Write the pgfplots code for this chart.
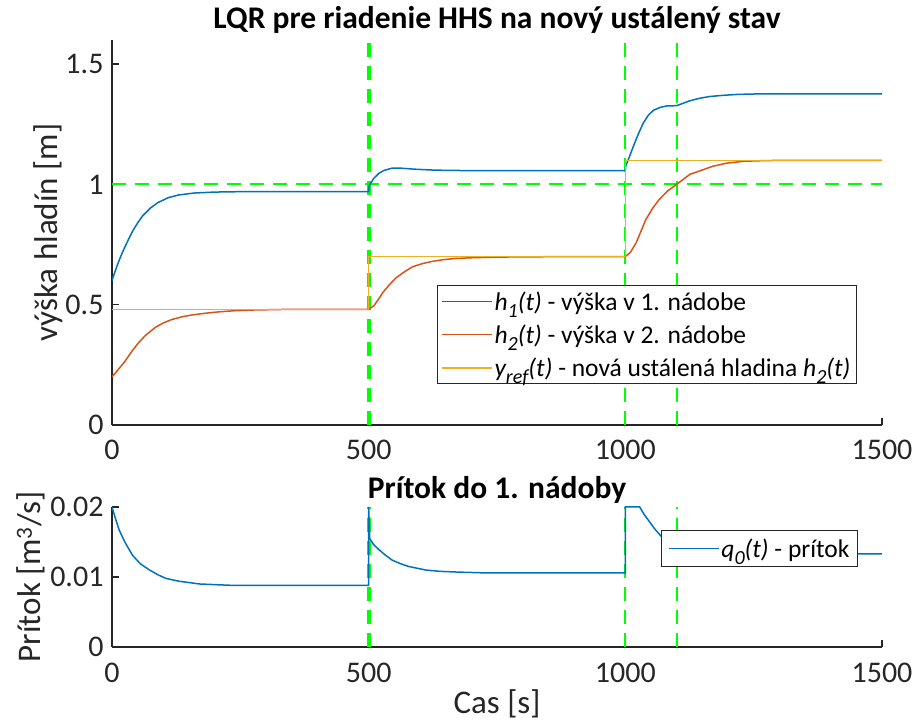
\documentclass[border=0pt]{standalone}
\usepackage{pgfplots}
\pgfplotsset{compat=1.18}
\usepackage{fontspec}
\setmainfont{Carlito}
\definecolor{mblue}{rgb}{0,0.447,0.741}
\definecolor{mred}{rgb}{0.85,0.325,0.098}
\definecolor{myel}{rgb}{0.929,0.694,0.125}
\definecolor{mgray}{HTML}{262626}
\definecolor{mgreen}{rgb}{0,1,0}
\newcommand{\sub}[1]{\raisebox{-0.6ex}{\fontsize{20}{20}\selectfont #1}}
\pgfplotsset{
  common/.style={
    scale only axis, width=770pt,
    xmin=0, xmax=1500,
    axis x line*=bottom, axis y line*=left,
    axis line style={-, mgray, line width=1.2pt},
    tick align=inside, major tick length=7pt,
    tick style={mgray, line width=1.2pt},
    xtick={0,500,1000,1500}, xticklabels={0,500,1000,1500},
    tick label style={font=\fontsize{30}{33}\selectfont, text=mgray},
    xticklabel style={yshift=-12pt},
    yticklabel style={xshift=-5pt},
    label style={font=\fontsize{33}{36}\selectfont, text=mgray},
    title style={font=\bfseries\fontsize{31.5}{34}\selectfont, text=black},
    legend style={draw=mgray, line width=1pt, fill=white, font=\fontsize{25.5}{30}\selectfont,
      legend cell align=left, inner sep=4pt, row sep=9pt},
    legend image code/.code={\draw[#1, line width=1.5pt] (0pt,0pt) -- (50pt,0pt);},
  },
  gline/.style={mgreen, line width=2pt, dash pattern=on 14pt off 9pt, forget plot},
  gthick/.style={mgreen, line width=4pt, dash pattern=on 14pt off 9pt, forget plot},
}
\begin{document}
\begin{tikzpicture}
\useasboundingbox (-112pt,-78pt) rectangle (801pt,647pt);
% top axis
\begin{axis}[common, at={(0pt,222pt)}, anchor=south west, height=385pt,
  ymin=0, ymax=1.6, ytick={0,0.5,1,1.5}, yticklabels={0,0.5,1,1.5},
  ylabel={výška hladín [m]},
  ylabel style={yshift=-4pt},
  title={LQR pre riadenie HHS na nový ustálený stav},
  title style={yshift=-3pt},
  legend style={at={(0.9675,0.3636)}, anchor=north east},
]
\addplot[gthick] coordinates {(500,0) (500,1.6)};
\addplot[gline] coordinates {(1000,0) (1000,1.6)};
\addplot[gline] coordinates {(1100,0) (1100,1.6)};
\addplot[gline] coordinates {(0,1) (1500,1)};
\addplot[mblue, line width=1.5pt] coordinates {
(0,0.600) (5,0.632) (10,0.662) (15,0.690) (20,0.716) (30,0.762) (40,0.805) (50,0.840)
(60,0.870) (75,0.902) (90,0.925) (110,0.945) (130,0.956) (160,0.964) (200,0.968)
(260,0.970) (499,0.970) (500,0.970) (501,0.995) (505,1.008) (510,1.025) (520,1.046)
(530,1.058) (545,1.067) (565,1.067) (590,1.063) (630,1.059) (700,1.057) (999,1.057)
(1000,1.057) (1001,1.078) (1008,1.115) (1016,1.160) (1025,1.208) (1035,1.255) (1045,1.288)
(1055,1.308) (1068,1.320) (1081,1.326) (1100,1.327) (1110,1.335) (1125,1.347)
(1145,1.358) (1164,1.365) (1190,1.370) (1220,1.374) (1260,1.376) (1500,1.376)};
\addlegendentry{\textit{h\sub{1}(t)} - výška v 1. nádobe}
\addplot[mred, line width=1.5pt] coordinates {
(0,0.200) (10,0.225) (25,0.264) (40,0.310) (51,0.340) (65,0.372) (84,0.405) (100,0.424)
(116,0.438) (135,0.449) (155,0.457) (180,0.464) (207,0.470) (240,0.475) (278,0.478)
(330,0.480) (500,0.481) (510,0.495) (520,0.525) (527,0.549) (540,0.582) (553,0.611)
(570,0.637) (585,0.657) (605,0.671) (624,0.680) (645,0.687) (669,0.692) (700,0.695)
(734,0.697) (800,0.699) (1000,0.700) (1010,0.718) (1021,0.757) (1030,0.803) (1040,0.854)
(1053,0.900) (1066,0.937) (1082,0.972) (1100,1.000) (1126,1.042) (1145,1.056)
(1170,1.075) (1197,1.088) (1230,1.096) (1275,1.099) (1330,1.100) (1500,1.100)};
\addlegendentry{\textit{h\sub{2}(t)} - výška v 2. nádobe}
\addplot[myel, line width=1.5pt] coordinates {
(0,0.48) (500,0.48) (500,0.70) (1000,0.70) (1000,1.10) (1500,1.10)};
\addlegendentry{\textit{y\sub{ref}(t)} - nová ustálená hladina \textit{h\sub{2}(t)}}
\end{axis}
% bottom axis
\begin{axis}[common, at={(0pt,0pt)}, anchor=south west, height=140pt,
  ymin=0, ymax=0.02, ytick={0,0.01,0.02}, yticklabels={0,0.01,0.02},
  scaled y ticks=false,
  ylabel={Prítok [m\textsuperscript{3}/s]},
  ylabel style={yshift=-2pt},
  xlabel={Cas [s]},
  xlabel style={yshift=-1pt},
  title={Prítok do 1. nádoby},
  title style={yshift=-6pt},
  legend style={at={(0.9688,0.8357)}, anchor=north east, inner sep=6pt},
]
\addplot[gthick] coordinates {(500,0) (500,0.02)};
\addplot[gline] coordinates {(1000,0) (1000,0.02)};
\addplot[gline] coordinates {(1100,0) (1100,0.02)};
\addplot[mblue, line width=1.5pt] coordinates {
(0,0.0200) (7,0.0183) (14,0.0167) (25,0.0150) (40,0.0131) (55,0.0119) (73,0.0110)
(90,0.0103) (105,0.0098) (130,0.0094) (171,0.0090) (236,0.0088) (500,0.0088)
(500,0.0200) (502,0.0155) (510,0.0146) (520,0.0139) (533,0.0131) (546,0.0124)
(562,0.0119) (578,0.0115) (611,0.0110) (640,0.0108) (675,0.0107) (720,0.0106)
(1000,0.0106) (1000,0.0200) (1028,0.0200) (1037,0.0189) (1047,0.0179) (1058,0.0168)
(1070,0.0158) (1085,0.0150) (1100,0.0145) (1101,0.0152) (1150,0.0140) (1200,0.0135)
(1300,0.0133) (1500,0.0133)};
\addlegendentry{\textit{q\sub{0}(t)} - prítok}
\end{axis}
\end{tikzpicture}
\end{document}
